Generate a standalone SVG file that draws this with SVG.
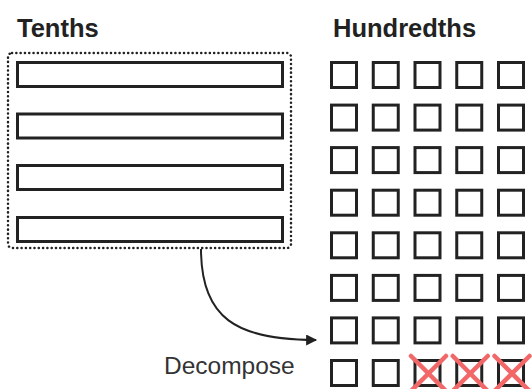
<svg xmlns="http://www.w3.org/2000/svg" width="532" height="389" viewBox="0 0 532 389">
<style>
.title{font-family:"Liberation Sans",Arial,sans-serif;font-weight:bold;font-size:25.5px;fill:#222}
.label{font-family:"Liberation Sans",Arial,sans-serif;font-size:24.5px;fill:#333}
.bar{fill:#fff;stroke:#222;stroke-width:3}
.sq{fill:#fff;stroke:#222;stroke-width:3}
.x{stroke:#f26868;stroke-width:4.5;stroke-linecap:round;fill:none}
.conn{fill:none;stroke:#222;stroke-width:2}
</style>
<defs>
<marker id="arrow" viewBox="0 0 10 10" refX="9" refY="5" markerWidth="12" markerHeight="11" orient="auto" markerUnits="userSpaceOnUse">
<path d="M0,0 L10,5 L0,10 Z" fill="#222"/>
</marker>
</defs>
<rect width="532" height="389" fill="#fff"/>
<g id="tenths-title"><text class="title" x="17" y="37">Tenths</text></g>
<g id="hundredths-title"><text class="title" x="333" y="37">Hundredths</text></g>
<g id="tenths">
<rect x="8" y="53" width="283" height="195" rx="4" fill="none" stroke="#222" stroke-width="2.5" stroke-dasharray="0.1 4.2" stroke-linecap="round"/>
<rect class="bar" x="17.5" y="62.5" width="265" height="24"/>
<rect class="bar" x="17.5" y="114" width="265" height="24"/>
<rect class="bar" x="17.5" y="165.5" width="265" height="24"/>
<rect class="bar" x="17.5" y="217.5" width="265" height="24"/>
</g>
<g id="hundredths">
<defs><rect id="s" class="sq" width="25" height="25"/></defs>
<g transform="translate(331.5,62.5)">
<use href="#s" x="0" y="0"/><use href="#s" x="41.75" y="0"/><use href="#s" x="83.5" y="0"/><use href="#s" x="125.25" y="0"/><use href="#s" x="167" y="0"/>
<use href="#s" x="0" y="42.6"/><use href="#s" x="41.75" y="42.6"/><use href="#s" x="83.5" y="42.6"/><use href="#s" x="125.25" y="42.6"/><use href="#s" x="167" y="42.6"/>
<use href="#s" x="0" y="85.1"/><use href="#s" x="41.75" y="85.1"/><use href="#s" x="83.5" y="85.1"/><use href="#s" x="125.25" y="85.1"/><use href="#s" x="167" y="85.1"/>
<use href="#s" x="0" y="127.7"/><use href="#s" x="41.75" y="127.7"/><use href="#s" x="83.5" y="127.7"/><use href="#s" x="125.25" y="127.7"/><use href="#s" x="167" y="127.7"/>
<use href="#s" x="0" y="170.3"/><use href="#s" x="41.75" y="170.3"/><use href="#s" x="83.5" y="170.3"/><use href="#s" x="125.25" y="170.3"/><use href="#s" x="167" y="170.3"/>
<use href="#s" x="0" y="212.9"/><use href="#s" x="41.75" y="212.9"/><use href="#s" x="83.5" y="212.9"/><use href="#s" x="125.25" y="212.9"/><use href="#s" x="167" y="212.9"/>
<use href="#s" x="0" y="255.4"/><use href="#s" x="41.75" y="255.4"/><use href="#s" x="83.5" y="255.4"/><use href="#s" x="125.25" y="255.4"/><use href="#s" x="167" y="255.4"/>
<use href="#s" x="0" y="298"/><use href="#s" x="41.75" y="298"/><use href="#s" x="83.5" y="298"/><use href="#s" x="125.25" y="298"/><use href="#s" x="167" y="298"/>
</g>
</g>
<g id="crosses">
<path class="x" d="M411,356 L446,391 M446,356 L411,391"/>
<path class="x" d="M452.75,356 L487.75,391 M487.75,356 L452.75,391"/>
<path class="x" d="M494.5,356 L529.5,391 M529.5,356 L494.5,391"/>
</g>
<g id="connectors">
<path class="conn" d="M201,249 C201,318 236,340 316,340" marker-end="url(#arrow)"/>
</g>
<g id="decompose-label"><text class="label" x="164" y="374">Decompose</text></g>
</svg>
